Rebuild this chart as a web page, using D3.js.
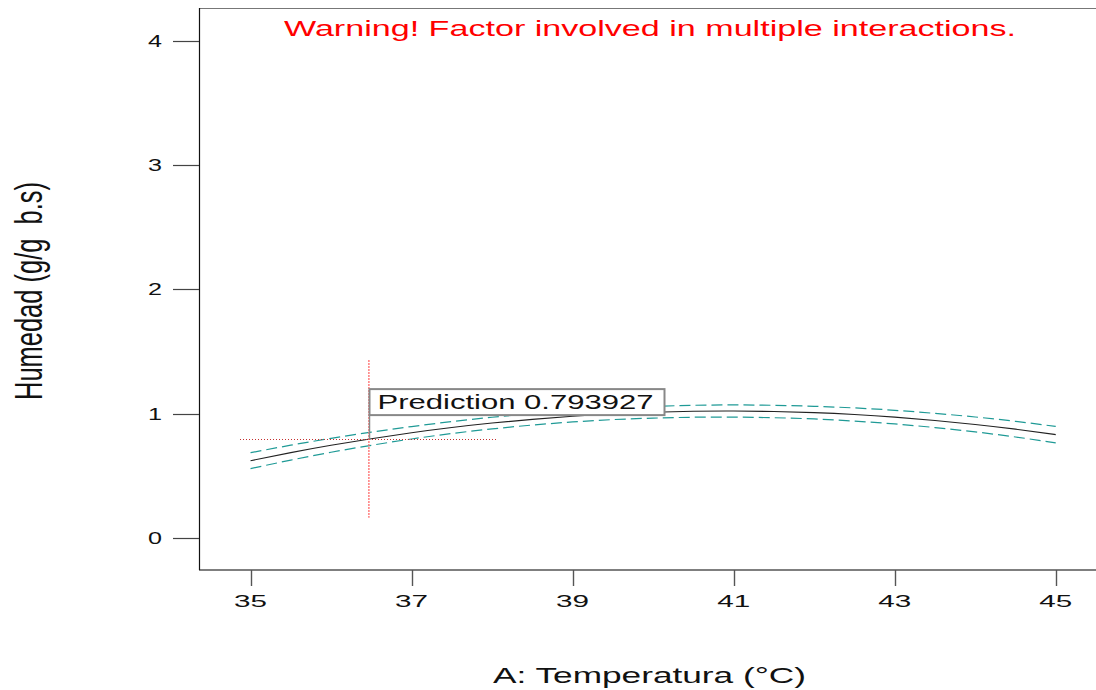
<!DOCTYPE html>
<html>
<head>
<meta charset="utf-8">
<script src="https://cdn.jsdelivr.net/npm/d3@7"></script>
<style>
  body { margin: 0; background: #fff; }
  svg { display: block; font-family: "Liberation Sans", Arial, sans-serif; }
</style>
</head>
<body>
<div id="chart"></div>
<script>
const width = 1096;
const height = 690;

// Temperatura (°C) and Humedad
const temps = [35, 35.5, 36, 36.5, 37, 37.5, 38, 38.5, 39, 39.5, 40, 40.5, 41, 41.5, 42, 42.5, 43, 43.5, 44, 44.5, 45];
const predicted = [0.620, 0.685, 0.744, 0.797, 0.845, 0.887, 0.923, 0.953, 0.978, 0.997, 1.010, 1.018, 1.020, 1.016, 1.007, 0.992, 0.971, 0.944, 0.912, 0.874, 0.830];
const upperCI = [0.684, 0.745, 0.800, 0.850, 0.895, 0.935, 0.970, 0.999, 1.024, 1.043, 1.057, 1.066, 1.069, 1.066, 1.058, 1.045, 1.026, 1.001, 0.972, 0.937, 0.896];
const lowerCI = [0.556, 0.625, 0.688, 0.744, 0.795, 0.839, 0.876, 0.907, 0.932, 0.951, 0.963, 0.970, 0.971, 0.966, 0.956, 0.939, 0.916, 0.887, 0.852, 0.811, 0.764];

const xTicks = [35, 37, 39, 41, 43, 45];
const yTicks = [0, 1, 2, 3, 4];

const predX = 36.47;
const predY = 0.793927;
const crossX = [34.87, 38.07];
const crossY = [0.16, 1.43];

const title = "Warning! Factor involved in multiple interactions.";
const xLabel = "A: Temperatura (°C)";
const yLabel = "Humedad (g/g  b.s)";

const plot = { left: 199, top: 8, right: 1096, bottom: 570 };

const x = d3.scaleLinear().domain([34.36, 45.5]).range([plot.left, plot.right]);
const y = d3.scaleLinear().domain([-0.26, 4.265]).range([plot.bottom, plot.top]);

const svg = d3.select("#chart").append("svg")
  .attr("width", width)
  .attr("height", height);

// frame
svg.append("line")
  .attr("x1", plot.left).attr("x2", plot.right)
  .attr("y1", plot.top + 0.5).attr("y2", plot.top + 0.5)
  .attr("stroke", "#777").attr("stroke-width", 1.2);
svg.append("line")
  .attr("x1", plot.left).attr("x2", plot.right)
  .attr("y1", plot.bottom).attr("y2", plot.bottom)
  .attr("stroke", "#555").attr("stroke-width", 1.6);
svg.append("line")
  .attr("x1", plot.left + 0.5).attr("x2", plot.left + 0.5)
  .attr("y1", plot.top).attr("y2", plot.bottom)
  .attr("stroke", "#111").attr("stroke-width", 1.2);

// ticks
svg.append("g").selectAll("line")
  .data(xTicks)
  .join("line")
  .attr("x1", d => Math.round(x(d)) + 0.5)
  .attr("x2", d => Math.round(x(d)) + 0.5)
  .attr("y1", plot.bottom)
  .attr("y2", plot.bottom + 16)
  .attr("stroke", "#555")
  .attr("stroke-width", 1.4);

svg.append("g").selectAll("text")
  .data(xTicks)
  .join("text")
  .attr("x", d => x(d))
  .attr("y", 607)
  .attr("text-anchor", "middle")
  .attr("font-size", 17)
  .attr("textLength", 33)
  .attr("lengthAdjust", "spacingAndGlyphs")
  .attr("fill", "#111")
  .text(d => d);

svg.append("g").selectAll("line")
  .data(yTicks)
  .join("line")
  .attr("x1", 173)
  .attr("x2", plot.left)
  .attr("y1", d => Math.round(y(d)) + 0.5)
  .attr("y2", d => Math.round(y(d)) + 0.5)
  .attr("stroke", "#444")
  .attr("stroke-width", 1.2);

svg.append("g").selectAll("text")
  .data(yTicks)
  .join("text")
  .attr("x", 162)
  .attr("y", d => y(d) + 6)
  .attr("text-anchor", "end")
  .attr("font-size", 17)
  .attr("textLength", 14)
  .attr("lengthAdjust", "spacingAndGlyphs")
  .attr("fill", "#111")
  .text(d => d);

// curves
const line = d3.line()
  .x((d, i) => x(temps[i]))
  .y(d => y(d))
  .curve(d3.curveNatural);

svg.append("path")
  .datum(upperCI)
  .attr("fill", "none")
  .attr("stroke", "#1f9a96")
  .attr("stroke-width", 1.2)
  .attr("stroke-dasharray", "11,5")
  .attr("d", line);

svg.append("path")
  .datum(lowerCI)
  .attr("fill", "none")
  .attr("stroke", "#1f9a96")
  .attr("stroke-width", 1.2)
  .attr("stroke-dasharray", "11,5")
  .attr("d", line);

svg.append("path")
  .datum(predicted)
  .attr("fill", "none")
  .attr("stroke", "#222")
  .attr("stroke-width", 1.1)
  .attr("d", line);

// crosshair
svg.append("line")
  .attr("x1", x(crossX[0])).attr("x2", x(crossX[1]))
  .attr("y1", Math.round(y(predY)) + 0.5).attr("y2", Math.round(y(predY)) + 0.5)
  .attr("stroke", "#c43030")
  .attr("stroke-width", 1)
  .attr("shape-rendering", "crispEdges")
  .attr("stroke-dasharray", "1,2");

svg.append("line")
  .attr("x1", x(predX)).attr("x2", x(predX))
  .attr("y1", y(crossY[1])).attr("y2", y(crossY[0]))
  .attr("stroke", "#ff6a6a")
  .attr("stroke-width", 1.3)
  .attr("stroke-dasharray", "2,1");

// prediction flag
const px = Math.round(x(predX)) + 0.5;
const py = y(predY);
svg.append("line")
  .attr("x1", px).attr("x2", px)
  .attr("y1", py - 24).attr("y2", py)
  .attr("stroke", "#888")
  .attr("stroke-width", 1.5);

svg.append("rect")
  .attr("x", px)
  .attr("y", py - 50)
  .attr("width", 295)
  .attr("height", 26)
  .attr("fill", "#fff")
  .attr("stroke", "#888")
  .attr("stroke-width", 2);

svg.append("text")
  .attr("x", px + 8)
  .attr("y", py - 30)
  .attr("font-size", 20)
  .attr("textLength", 276)
  .attr("lengthAdjust", "spacingAndGlyphs")
  .attr("fill", "#111")
  .text(`Prediction ${predY}`);

// titles
svg.append("text")
  .attr("x", 284)
  .attr("y", 36)
  .attr("font-size", 22)
  .attr("textLength", 732)
  .attr("lengthAdjust", "spacingAndGlyphs")
  .attr("fill", "#ff0000")
  .text(title);

svg.append("text")
  .attr("x", 493)
  .attr("y", 683)
  .attr("font-size", 22)
  .attr("textLength", 313)
  .attr("lengthAdjust", "spacingAndGlyphs")
  .attr("fill", "#111")
  .text(xLabel);

svg.append("text")
  .attr("transform", "translate(41.5,400) rotate(-90)")
  .attr("x", 0)
  .attr("y", 0)
  .attr("font-size", 38)
  .attr("textLength", 218)
  .attr("lengthAdjust", "spacingAndGlyphs")
  .style("white-space", "pre")
  .attr("fill", "#111")
  .text(yLabel);
</script>
</body>
</html>
